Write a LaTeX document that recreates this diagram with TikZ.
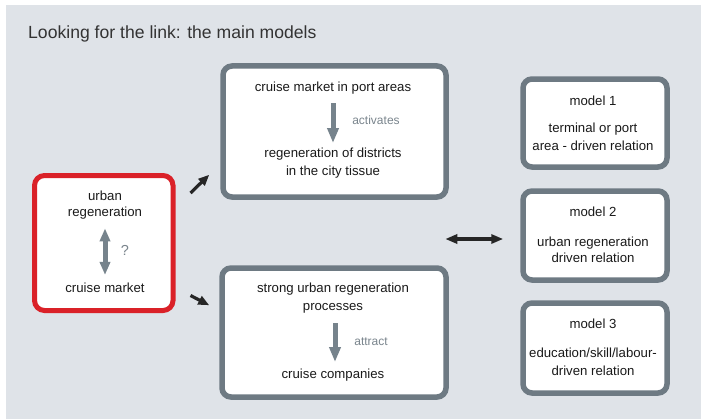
\documentclass[tikz,border=0pt]{standalone}
\usepackage{fontspec}
\setmainfont{Liberation Sans}
\usetikzlibrary{arrows.meta,calc}
\definecolor{panel}{HTML}{DFE3E8}
\definecolor{boxgray}{HTML}{6E7A83}
\definecolor{boxred}{HTML}{DA2128}
\definecolor{arrgray}{HTML}{76838C}
\definecolor{txtgray}{HTML}{7A858D}
\definecolor{txt}{HTML}{1A1A1A}
\begin{document}
\begin{tikzpicture}[x=1pt,y=-1pt,
  graybox/.style={draw=boxgray, line width=5.5pt, fill=white, rounded corners=9pt, inner sep=0pt},
  redbox/.style={draw=boxred, line width=5pt, fill=white, rounded corners=10pt, inner sep=0pt},
  lbl/.style={font=\fontsize{13.2}{17.5}\selectfont, text=txt, align=center, inner sep=0pt},
  lbltight/.style={font=\fontsize{13.2}{16}\selectfont, text=txt, align=center, inner sep=0pt},
  note/.style={font=\fontsize{12}{14}\selectfont, text=txtgray, inner sep=0pt},
  downarrow/.style={draw=arrgray, line width=5pt, -{Triangle[length=15pt,width=11pt]}},
  bidir/.style={draw=arrgray, line width=5pt, {Triangle[length=13pt,width=10pt]}-{Triangle[length=13pt,width=10pt]}},
  blackarrow/.style={draw=black!85, line width=3.2pt, -{Triangle[length=11pt,width=9pt]}},
  blackbidir/.style={draw=black!85, line width=3.2pt, {Triangle[length=12pt,width=9pt]}-{Triangle[length=12pt,width=9pt]}},
]
\useasboundingbox (0,0) rectangle (701,420);
\fill[white] (0,0) rectangle (701,420);
\fill[panel] (6,5) rectangle (701,419);

% title
\node[anchor=base west, inner sep=0pt, text=black!80, font=\fontsize{17.6}{21}\selectfont] (title) at (28,38) {Looking for the link: the main models};

% boxes
\node[redbox, minimum width=138.5pt, minimum height=135pt] (red) at (103.75,243) {};
\node[graybox, minimum width=223pt, minimum height=131pt] (topbox) at (334.5,131.5) {};
\node[graybox, minimum width=224pt, minimum height=129pt] (botbox) at (334,332.5) {};
\node[graybox, minimum width=144pt, minimum height=88pt] (m1box) at (595,123) {};
\node[graybox, minimum width=144pt, minimum height=89pt] (m2box) at (595,235.5) {};
\node[graybox, minimum width=144pt, minimum height=90pt] (m3box) at (595,348) {};

% red box content
\node[lbltight] (urb) at (105,205) {urban\\regeneration};
\node[lbl] (cm) at (105,288) {cruise market};
\node[note, font=\fontsize{14.5}{16}\selectfont] (q) at (125,250) {?};
\draw[bidir] ($(urb.south)+(0,9)$) -- ($(cm.north)+(0,-8)$);

% top middle box
\node[lbl] (t1) at (333,88) {cruise market in port areas};
\node[lbl, font=\fontsize{13.2}{18}\selectfont] (t2) at (333,163) {regeneration of districts\\in the city tissue};
\node[note] (act) at (376,120) {activates};
\draw[downarrow] ($(t1.center)+(0,15)$) -- ($(t2.center)+(0,-20)$);

% bottom middle box
\node[lbl, font=\fontsize{13.2}{18}\selectfont] (t3) at (333,298) {strong urban regeneration\\processes};
\node[lbl] (t4) at (333,375) {cruise companies};
\node[note] (att) at (371,342) {attract};
\draw[downarrow] ($(t4.center)+(2,-52)$) -- ($(t4.center)+(2,-13)$);

% models
\node[lbl] (m1) at (593,101) {model 1};
\node[lbl, font=\fontsize{13.2}{18}\selectfont] (m1b) at (593,137) {terminal or port\\area - driven relation};
\node[lbl] (m2) at (593,212) {model 2};
\node[lbltight] (m2b) at (593,250) {urban regeneration\\driven relation};
\node[lbl] (m3) at (593,324) {model 3};
\node[lbl, font=\fontsize{13.2}{18}\selectfont] (m3b) at (593,362) {education/skill/labour-\\driven relation};

% connectors
\draw[blackarrow] ($(red.north east)+(15,20)$) -- ($(topbox.south west)+(-11,-25)$);
\draw[blackarrow] ($(red.south east)+(15,-17.5)$) -- ($(botbox.north west)+(-10,40)$);
\draw[blackbidir] ($(m2box.west)+(-75,3.5)$) -- ($(m2box.west)+(-17,3.5)$);
\end{tikzpicture}
\end{document}
